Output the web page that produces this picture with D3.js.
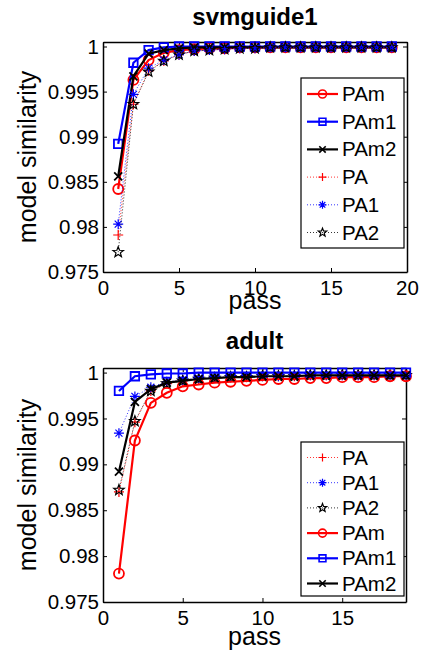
<!DOCTYPE html>
<html>
<head>
<meta charset="utf-8">
<script src="https://cdn.jsdelivr.net/npm/d3@7"></script>
<style>
  body { margin: 0; background: #fff; }
  svg { font-family: "Liberation Sans", Arial, sans-serif; }
</style>
</head>
<body>
<div id="chart"></div>
<script>
// data
var passes = [1,2,3,4,5,6,7,8,9,10,11,12,13,14,15,16,17,18,19];

// svmguide1
var svmPAm  = [0.9842,0.9963,0.9985,0.9993,0.9996,0.9997,0.9998,0.9998,0.9999,0.9999,0.9999,0.9999,0.9999,0.9999,0.9999,0.9999,0.9999,0.9999,0.9999];
var svmPAm1 = [0.9892,0.9982,0.9996,0.9999,1.0000,1.0000,1.0000,1.0000,1.0000,1.0000,1.0000,1.0000,1.0000,1.0000,1.0000,1.0000,1.0000,1.0000,1.0000];
var svmPAm2 = [0.9856,0.9967,0.9992,0.9996,0.9998,0.9999,0.9999,0.9999,0.9999,0.9999,0.9999,0.9999,0.9999,0.9999,0.9999,0.9999,0.9999,0.9999,0.9999];
var svmPA   = [0.9791,0.9936,0.9973,0.9984,0.9991,0.9995,0.9996,0.9997,0.9998,0.9998,0.9999,0.9999,0.9999,0.9999,0.9999,0.9999,0.9999,0.9999,0.9999];
var svmPA1  = [0.9803,0.9947,0.9976,0.9985,0.9991,0.9995,0.9996,0.9997,0.9998,0.9998,0.9999,0.9999,0.9999,0.9999,0.9999,0.9999,0.9999,0.9999,0.9999];
var svmPA2  = [0.9772,0.9936,0.9972,0.9984,0.9991,0.9995,0.9996,0.9997,0.9998,0.9998,0.9999,0.9999,0.9999,0.9999,0.9999,0.9999,0.9999,0.9999,0.9999];

// adult
var adPA    = [0.9870,0.9946,0.9980,0.9988,0.9991,0.9993,0.9994,0.9995,0.9995,0.9996,0.9996,0.9996,0.9997,0.9997,0.9997,0.9997,0.9997,0.9997,0.9997];
var adPA1   = [0.9934,0.9974,0.9984,0.9990,0.9992,0.9994,0.9995,0.9995,0.9996,0.9996,0.9996,0.9997,0.9997,0.9997,0.9997,0.9997,0.9997,0.9997,0.9997];
var adPA2   = [0.9872,0.9947,0.9980,0.9988,0.9991,0.9993,0.9994,0.9995,0.9995,0.9996,0.9996,0.9996,0.9997,0.9997,0.9997,0.9997,0.9997,0.9997,0.9997];
var adPAm   = [0.9781,0.9926,0.9967,0.9978,0.9985,0.9987,0.9989,0.9990,0.9991,0.9992,0.9993,0.9993,0.9994,0.9994,0.9995,0.9995,0.9995,0.9996,0.9996];
var adPAm1  = [0.9980,0.9996,0.9998,0.9999,0.9999,1.0000,1.0000,1.0000,1.0000,1.0000,1.0000,1.0000,1.0000,1.0000,1.0000,1.0000,1.0000,1.0000,1.0000];
var adPAm2  = [0.9892,0.9968,0.9982,0.9989,0.9991,0.9993,0.9994,0.9995,0.9995,0.9996,0.9996,0.9996,0.9997,0.9997,0.9997,0.9997,0.9997,0.9997,0.9997];

var yTicks = [0.975, 0.98, 0.985, 0.99, 0.995, 1];
var yTickLabels = ["0.975", "0.98", "0.985", "0.99", "0.995", "1"];
var svmXTicks = [0, 5, 10, 15, 20];
var adXTicks = [0, 5, 10, 15];

var svgWidth = 422;
var svgHeight = 654;

var svg = d3.select("#chart")
  .append("svg")
  .attr("width", svgWidth)
  .attr("height", svgHeight);

// series styles
var styles = {
  "PAm":  { color: "#ff0000", marker: "circle",   dash: null, width: 2.2 },
  "PAm1": { color: "#0000ff", marker: "square",   dash: null, width: 2.2 },
  "PAm2": { color: "#000000", marker: "x",        dash: null, width: 2.2 },
  "PA":   { color: "#ff0000", marker: "plus",     dash: "1,2", width: 0.8 },
  "PA1":  { color: "#0000ff", marker: "asterisk", dash: "1,2", width: 0.8 },
  "PA2":  { color: "#000000", marker: "star",     dash: "1,2", width: 0.8 }
};

// marker outline path centred on 0,0
function markerPath(type, s) {
  var p = d3.path();
  if (type === "circle") {
    p.moveTo(s, 0);
    p.arc(0, 0, s, 0, 2 * Math.PI);
  } else if (type === "square") {
    var h = s * 0.85;
    p.rect(-h, -h, 2 * h, 2 * h);
  } else if (type === "x") {
    var h = s * 0.8;
    p.moveTo(-h, -h); p.lineTo(h, h);
    p.moveTo(-h, h); p.lineTo(h, -h);
  } else if (type === "plus") {
    p.moveTo(-s, 0); p.lineTo(s, 0);
    p.moveTo(0, -s); p.lineTo(0, s);
  } else if (type === "asterisk") {
    var h = s * 0.7;
    p.moveTo(-s, 0); p.lineTo(s, 0);
    p.moveTo(0, -s); p.lineTo(0, s);
    p.moveTo(-h, -h); p.lineTo(h, h);
    p.moveTo(-h, h); p.lineTo(h, -h);
  } else if (type === "star") {
    var r1 = s * 1.1, r2 = r1 * 0.42;
    for (var i = 0; i < 10; i++) {
      var r = i % 2 === 0 ? r1 : r2;
      var a = -Math.PI / 2 + i * Math.PI / 5;
      if (i === 0) p.moveTo(r * Math.cos(a), r * Math.sin(a));
      else p.lineTo(r * Math.cos(a), r * Math.sin(a));
    }
    p.closePath();
  }
  return p.toString();
}

function drawPanel(cfg) {
  var x = d3.scaleLinear().domain(cfg.xDomain).range([cfg.left, cfg.right]);
  var y = d3.scaleLinear().domain([0.975, 1.0005]).range([cfg.bottom, cfg.top]);

  var g = svg.append("g");

  // axes box with inward ticks on all sides
  var leftAxis = d3.axisLeft(y).tickValues(yTicks)
    .tickFormat((d, i) => yTickLabels[i]).tickSizeInner(-4).tickSizeOuter(0).tickPadding(4);
  var rightAxis = d3.axisRight(y).tickValues(yTicks).tickFormat("").tickSizeInner(-4).tickSizeOuter(0);
  var bottomAxis = d3.axisBottom(x).tickValues(cfg.xTicks).tickSizeInner(-4).tickSizeOuter(0).tickPadding(8);
  var topAxis = d3.axisTop(x).tickValues(cfg.xTicks).tickFormat("").tickSizeInner(-4).tickSizeOuter(0);

  g.append("g").attr("transform", `translate(${cfg.left},0)`).call(leftAxis);
  g.append("g").attr("transform", `translate(${cfg.right},0)`).call(rightAxis);
  g.append("g").attr("transform", `translate(0,${cfg.bottom})`).call(bottomAxis);
  g.append("g").attr("transform", `translate(0,${cfg.top})`).call(topAxis);

  g.selectAll(".domain").attr("stroke", "#000").attr("stroke-width", 1.5);
  g.selectAll(".tick line").attr("stroke", "#000").attr("stroke-width", 1);
  g.selectAll(".tick text")
    .attr("fill", "#000")
    .style("font-size", "20.5px")
    .style("font-family", "'Liberation Sans', Arial, sans-serif");

  // series
  cfg.series.forEach(function(s) {
    var st = styles[s.name];
    var line = d3.line().x((d, i) => x(passes[i])).y(d => y(d));
    g.append("path")
      .datum(s.values)
      .attr("d", line)
      .attr("fill", "none")
      .attr("stroke", st.color)
      .attr("stroke-width", st.width)
      .attr("stroke-dasharray", st.dash);
    g.selectAll(null)
      .data(s.values)
      .enter()
      .append("path")
      .attr("transform", (d, i) => `translate(${x(passes[i])},${y(d)})`)
      .attr("d", markerPath(st.marker, 5))
      .attr("fill", "none")
      .attr("stroke", st.color)
      .attr("stroke-width", st.dash ? 1.2 : 1.8);
  });

  // title
  svg.append("text")
    .attr("x", (cfg.left + cfg.right) / 2)
    .attr("y", cfg.titleY)
    .attr("text-anchor", "middle")
    .style("font-size", "24px")
    .style("font-weight", "bold")
    .text(cfg.title);

  // axis labels
  svg.append("text")
    .attr("x", (cfg.left + cfg.right) / 2)
    .attr("y", cfg.xLabelY)
    .attr("text-anchor", "middle")
    .style("font-size", "25px")
    .text("pass");

  svg.append("text")
    .attr("transform", `translate(36, ${(cfg.top + cfg.bottom) / 2}) rotate(-90)`)
    .attr("text-anchor", "middle")
    .style("font-size", "25px")
    .text("model similarity");

  // legend
  var lg = svg.append("g");
  lg.append("rect")
    .attr("x", cfg.legend.x)
    .attr("y", cfg.legend.y)
    .attr("width", cfg.legend.w)
    .attr("height", cfg.legend.h)
    .attr("fill", "#fff")
    .attr("stroke", "#000")
    .attr("stroke-width", 1.2);

  cfg.legendOrder.forEach(function(name, i) {
    var st = styles[name];
    var cy = cfg.legend.y + cfg.legend.first + i * cfg.legend.step;
    var x0 = cfg.legend.x + 6, x1 = cfg.legend.x + 37;
    lg.append("line")
      .attr("x1", x0).attr("x2", x1)
      .attr("y1", cy).attr("y2", cy)
      .attr("stroke", st.color)
      .attr("stroke-width", st.width)
      .attr("stroke-dasharray", st.dash);
    lg.append("path")
      .attr("transform", `translate(${(x0 + x1) / 2},${cy})`)
      .attr("d", markerPath(st.marker, 4))
      .attr("fill", "none")
      .attr("stroke", st.color)
      .attr("stroke-width", st.dash ? 1.2 : 1.6);
    lg.append("text")
      .attr("x", x1 + 4)
      .attr("y", cy + 7)
      .style("font-size", "20.5px")
      .text(name);
  });
}

drawPanel({
  title: "svmguide1",
  titleY: 25,
  xLabelY: 309,
  left: 103, right: 407, top: 42, bottom: 272,
  xDomain: [0, 20],
  xTicks: svmXTicks,
  series: [
    { name: "PAm", values: svmPAm },
    { name: "PAm1", values: svmPAm1 },
    { name: "PAm2", values: svmPAm2 },
    { name: "PA", values: svmPA },
    { name: "PA1", values: svmPA1 },
    { name: "PA2", values: svmPA2 }
  ],
  legendOrder: ["PAm", "PAm1", "PAm2", "PA", "PA1", "PA2"],
  legend: { x: 301, y: 78, w: 103, h: 170, first: 16, step: 27.7 }
});

drawPanel({
  title: "adult",
  titleY: 349,
  xLabelY: 645,
  left: 103, right: 406, top: 368, bottom: 602,
  xDomain: [0, 19],
  xTicks: adXTicks,
  series: [
    { name: "PA", values: adPA },
    { name: "PA1", values: adPA1 },
    { name: "PA2", values: adPA2 },
    { name: "PAm", values: adPAm },
    { name: "PAm1", values: adPAm1 },
    { name: "PAm2", values: adPAm2 }
  ],
  legendOrder: ["PA", "PA1", "PA2", "PAm", "PAm1", "PAm2"],
  legend: { x: 301, y: 442, w: 103, h: 154, first: 15.5, step: 25.2 }
});
</script>
</body>
</html>
